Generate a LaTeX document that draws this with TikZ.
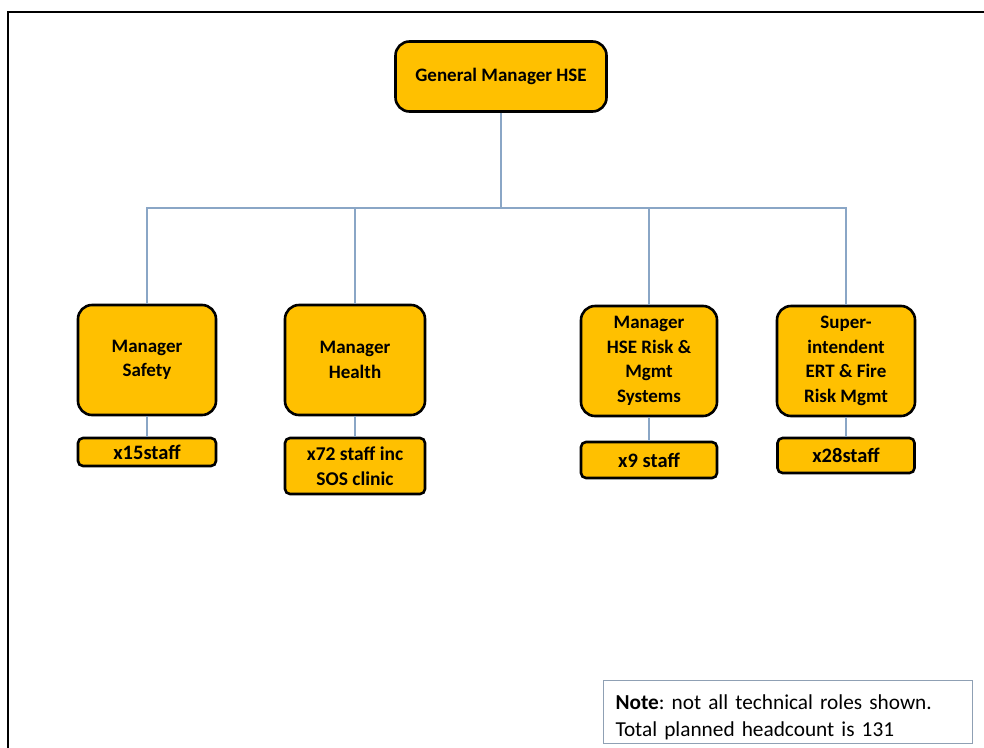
\documentclass[tikz,border=0pt]{standalone}
\usepackage{fontspec}
\setmainfont{Carlito}
\begin{document}
\frenchspacing
\begin{tikzpicture}[x=1pt,y=-1pt,
  role/.style={draw=black, line width=2.6pt, fill=roleyellow, rounded corners=14pt,
    align=center, font=\fontsize{19}{24.5}\selectfont\bfseries, inner sep=2pt},
  staff/.style={draw=black, line width=2.6pt, fill=roleyellow, rounded corners=5pt,
    align=center, font=\fontsize{20.5}{24.5}\selectfont\bfseries, inner sep=1pt},
  link/.style={draw=linkblue, line width=1.1pt},
]
\definecolor{roleyellow}{HTML}{FFC000}
\definecolor{linkblue}{HTML}{8AA6C6}
\definecolor{notegrey}{HTML}{8FA0B4}
\useasboundingbox (0,0) rectangle (984,747);
\fill[white] (0,0) rectangle (984,747);
% outer frame, open on the right and at the bottom
\draw[line width=2pt, black] (8,750) -- (8,12) -- (990,12);

% head of department
\node[role, minimum width=211pt, minimum height=70pt] (gm) at (501,76.5) {General Manager HSE};

% direct reports
\node[role, minimum width=138pt, minimum height=110pt] (safety) at (147,360) {Manager\\Safety};
\node[role, minimum width=140pt, minimum height=110pt] (health) at (355,360) {Manager\\Health};
\node[role, minimum width=136pt, minimum height=110pt] (risk)   at (649,361) {Manager\\HSE Risk \&\\Mgmt\\Systems};
\node[role, minimum width=138pt, minimum height=110pt] (ert)    at (846,361) {Super-\\intendent\\ERT \& Fire\\Risk Mgmt};

% staff counts
\node[staff, minimum width=138pt, minimum height=28pt] (s15) at (147,452) {x15staff};
\node[staff, minimum width=140pt, minimum height=56pt, font=\fontsize{19.5}{24.5}\selectfont\bfseries] (s72) at (355,466) {x72 staff inc\\SOS clinic};
\node[staff, minimum width=136pt, minimum height=36pt] (s9)  at (649,460) {x9 staff};
\node[staff, minimum width=137pt, minimum height=35pt] (s28) at (846,455.5) {x28staff};

% reporting lines
\coordinate (bus) at (501,208);
\path[link] (gm.south) -- (bus);
\path[link] (safety.north) |- (bus) -| (ert.north);
\path[link] (health.north) -- (health.north |- bus);
\path[link] (risk.north) -- (risk.north |- bus);
\path[link] (safety.south) -- (s15.north);
\path[link] (health.south) -- (s72.north);
\path[link] (risk.south) -- (s9.north);
\path[link] (ert.south) -- (s28.north);

% note
\node[draw=notegrey, line width=1pt, anchor=north west, minimum width=367pt, minimum height=63pt,
  align=left, text width=345pt, inner xsep=12pt, inner ysep=0pt,
  font=\fontsize{21.3}{27}\selectfont] (note) at (603,680)
  {\rule{0pt}{25pt}\textbf{Note}: not all technical roles shown.\\Total planned headcount is 131};
\end{tikzpicture}
\end{document}
